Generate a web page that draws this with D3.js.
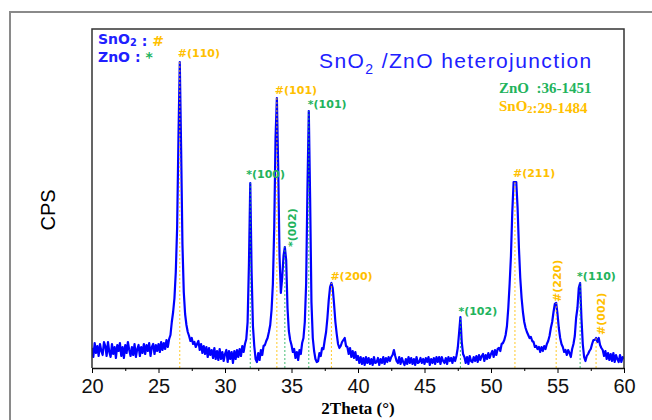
<!DOCTYPE html>
<html>
<head>
<meta charset="utf-8">
<script src="https://cdn.jsdelivr.net/npm/d3@7"></script>
<style>
body{margin:0;background:#fff;}
</style>
</head>
<body>
<div id="chart"></div>
<script>
// XRD scan, 20-60 deg, 0.1 deg step, CPS
var startAngle = 20, stepAngle = 0.1;
var intensity = [
 100,55,125,75,110,60,120,85,65,130,
 110,60,130,80,55,120,70,105,50,115,
 85,125,60,105,50,115,75,130,90,60,
 105,65,120,55,95,115,60,105,75,120,
 70,115,85,125,60,105,120,70,115,85,
 120,80,130,90,125,95,140,105,145,165,
 230,280,350,480,700,1150,1530,1100,620,380,
 270,215,180,160,135,150,120,130,105,120,
 135,90,120,75,110,70,105,55,100,65,
 90,50,100,45,85,40,95,45,80,35,
 70,90,30,85,45,80,25,85,45,90,
 55,95,60,110,80,120,145,230,520,925,
 480,210,110,45,30,75,40,90,65,110,
 115,135,150,180,215,290,420,700,1150,1350,
 1000,560,375,450,560,605,540,300,185,140,
 115,80,95,50,80,40,90,70,125,150,
 230,420,900,1285,850,330,150,85,45,30,
 35,75,60,100,95,140,180,250,340,405,
 425,400,320,230,170,120,100,110,130,140,
 150,110,105,70,100,55,85,50,80,40,
 60,25,55,20,50,15,55,25,50,20,
 45,15,55,25,30,50,15,45,25,55,
 20,50,30,55,35,55,65,90,60,35,
 25,55,20,50,30,15,45,20,55,25,
 50,20,45,15,55,25,30,50,25,45,
 20,50,30,55,15,45,25,50,20,55,
 30,55,20,55,35,25,50,20,55,35,
 50,25,55,35,60,100,175,255,130,70,
 55,25,55,20,60,35,30,55,35,60,
 30,65,40,60,70,35,65,45,75,50,
 70,85,55,90,65,95,100,85,120,125,
 140,165,210,300,420,560,780,930,930,930,
 800,600,450,350,280,230,200,180,165,150,
 155,135,130,105,110,95,105,80,105,85,
 110,95,120,135,160,200,230,280,320,325,
 270,200,150,120,105,80,90,65,90,75,
 55,95,120,160,250,300,400,425,250,120,
 55,35,60,70,85,95,120,140,140,150,
 130,150,115,100,90,60,85,45,75,40,
 70,35,75,30,65,45,30,65,30,55,
 45
];

var peakAngle = [26.6, 31.9, 33.9, 34.5, 36.3, 38.0, 47.7, 51.8, 54.9, 56.7, 57.9];
var peakPhase = ["SnO2","ZnO","SnO2","ZnO","ZnO","SnO2","ZnO","SnO2","SnO2","ZnO","SnO2"];
var peakHkl = ["(110)","(100)","(101)","(002)","(101)","(200)","(102)","(211)","(220)","(110)","(002)"];
var xTicks = [20,25,30,35,40,45,50,55,60];
var xMinor = [22.5,27.5,32.5,37.5,42.5,47.5,52.5,57.5];
var cardPhase = ["ZnO","SnO2"];
var cardNumber = ["36-1451","29-1484"];

var phaseColor = {SnO2:"#ffc000", ZnO:"#22b35c"};
var phaseMark = {SnO2:"#", ZnO:"*"};
// label offsets from the peak top: dx, dy, rotated
var labelLayout = [[-2,-5,0],[-4,-5,0],[-2,-4,0],[11,0,1],[-1,-3,0],[-1,-3,0],[-2,-2,0],[-2,-5,0],[5,-1,1],[-3,-3,0],[9,-3,1]];

var W = 652, H = 420;
var pLeft = 92, pRight = 624, pTop = 29, pBottom = 368;

var svg = d3.select("#chart").append("svg")
  .attr("width", W)
  .attr("height", H);

// outer frame
svg.append("path")
  .attr("d", "M10," + H + "V12H" + W)
  .attr("fill", "none")
  .attr("stroke", "#8a8a8a")
  .attr("stroke-width", 2);

var x = d3.scaleLinear().domain([20, 60]).range([pLeft, pRight]);
var y = d3.scaleLinear().domain([0, 1695]).range([pBottom, pTop]);

var pts = intensity.map(function (v, i) { return [startAngle + i * stepAngle, v]; });

svg.append("clipPath").attr("id", "clip")
  .append("rect").attr("x", pLeft).attr("y", pTop)
  .attr("width", pRight - pLeft).attr("height", pBottom - pTop);

var line = d3.line()
  .x(function (d) { return x(d[0]); })
  .y(function (d) { return y(d[1]); });

function topOf(a) {
  return intensity[Math.round((a - startAngle) / stepAngle)];
}

svg.append("path")
  .datum(pts)
  .attr("clip-path", "url(#clip)")
  .attr("d", line)
  .attr("fill", "none")
  .attr("stroke", "#0000ff")
  .attr("stroke-width", 2.2)
  .attr("stroke-linejoin", "round");

// dotted reference lines
for (var i = 0; i < peakAngle.length; i++) {
  svg.append("line")
    .attr("x1", x(peakAngle[i]))
    .attr("x2", x(peakAngle[i]))
    .attr("y1", pBottom)
    .attr("y2", y(topOf(peakAngle[i])))
    .attr("stroke", phaseColor[peakPhase[i]])
    .attr("stroke-width", 1)
    .attr("stroke-opacity", 0.85)
    .attr("stroke-dasharray", "2,2");
}

// frame
svg.append("path")
  .attr("d", "M" + pLeft + "," + pBottom + "V" + pTop + "H" + pRight + "V" + pBottom)
  .attr("fill", "none")
  .attr("stroke", "#333")
  .attr("stroke-width", 1.5);

var xAxis = svg.append("g")
  .attr("transform", "translate(0," + pBottom + ")")
  .call(d3.axisBottom(x).tickValues(xTicks).tickSize(5).tickSizeOuter(0).tickPadding(6));
xAxis.select(".domain").attr("stroke", "#111").attr("stroke-width", 1.5);
xAxis.selectAll("text").attr("font-family", "Liberation Sans, Arial, sans-serif").attr("font-size", 20).attr("fill", "#111");

svg.append("g")
  .attr("transform", "translate(0," + pBottom + ")")
  .call(d3.axisBottom(x).tickValues(xMinor).tickSize(3).tickFormat(""))
  .select(".domain").remove();

svg.append("text")
  .attr("x", (pLeft + pRight) / 2)
  .attr("y", 414)
  .attr("text-anchor", "middle")
  .attr("font-family", "Liberation Serif, serif")
  .attr("font-weight", "bold")
  .attr("font-size", 17)
  .text("2Theta (°)");

svg.append("text")
  .attr("transform", "translate(55,210) rotate(-90)")
  .attr("text-anchor", "middle")
  .attr("font-family", "Liberation Sans, Arial, sans-serif")
  .attr("font-size", 20)
  .text("CPS");

// peak labels
for (var i = 0; i < peakAngle.length; i++) {
  var L = labelLayout[i];
  var px = x(peakAngle[i]) + L[0], py = y(topOf(peakAngle[i])) + L[1];
  svg.append("text")
    .attr("transform", "translate(" + px + "," + py + ")" + (L[2] ? " rotate(-90)" : ""))
    .attr("font-family", "DejaVu Sans, sans-serif")
    .attr("font-weight", "bold")
    .attr("font-size", 11)
    .attr("fill", phaseColor[peakPhase[i]])
    .text(phaseMark[peakPhase[i]] + peakHkl[i]);
}

// title
var title = svg.append("text")
  .attr("x", 319)
  .attr("y", 68)
  .attr("font-family", "Liberation Sans, Arial, sans-serif")
  .attr("font-size", 21)
  .attr("fill", "#2020ff")
  .attr("letter-spacing", 1.4);
title.append("tspan").text("SnO");
title.append("tspan").attr("font-size", 14).attr("dy", 6).text("2");
title.append("tspan").attr("dy", -6).text(" /ZnO heterojunction");

// legend (top left)
function formula(sel, name) {
  if (name == "SnO2") {
    sel.append("tspan").text("SnO");
    sel.append("tspan").attr("font-size", "0.7em").attr("dy", 2).text("2");
    sel.append("tspan").attr("dy", -2);
  } else {
    sel.append("tspan").text(name);
  }
}
["SnO2", "ZnO"].forEach(function (p, k) {
  var t = svg.append("text")
    .attr("x", 98).attr("y", 44 + k * 18)
    .attr("font-family", "DejaVu Sans, sans-serif")
    .attr("font-weight", "bold")
    .attr("font-size", 14)
    .style("white-space", "pre")
    .attr("fill", "#2020ff");
  formula(t, p);
  t.append("tspan").text(" : ");
  t.append("tspan").attr("fill", phaseColor[p]).text(phaseMark[p]);
});

// card numbers
cardPhase.forEach(function (p, k) {
  var t = svg.append("text")
    .attr("x", 499).attr("y", 93 + k * 18)
    .attr("font-family", "Liberation Serif, serif")
    .attr("font-weight", "bold")
    .attr("font-size", 15)
    .style("white-space", "pre")
    .attr("fill", phaseColor[p]);
  if (p == "ZnO") {
    t.append("tspan").text("ZnO  :" + cardNumber[k]);
  } else {
    formula(t, p);
    t.append("tspan").text(":" + cardNumber[k]);
  }
});
</script>
</body>
</html>
